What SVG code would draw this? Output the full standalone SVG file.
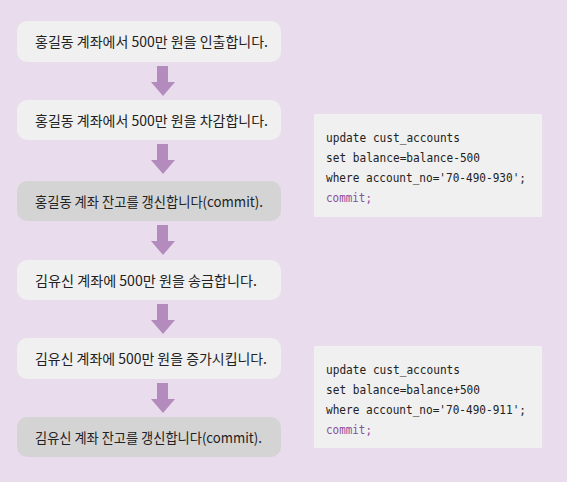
<svg xmlns="http://www.w3.org/2000/svg" width="567" height="482" viewBox="0 0 567 482">
<style>
.bg{fill:#e8dced}
.light{fill:#f0f0f0}
.dark{fill:#d5d4d5}
.lbl{font-family:"Noto Sans CJK KR","Noto Sans",sans-serif;font-size:14px;fill:#222}
.code{fill:#eff0ef}
.mono{font-family:"DejaVu Sans Mono","Liberation Mono",monospace;font-size:12.5px;fill:#222}
.kw{fill:#8b4f9c}
.arr{fill:#b48bbd}
</style>
<rect class="bg" x="0" y="0" width="567" height="482"/>
<g id="connectors">
<path class="arr" d="M157 66h11v16h7l-12 14l-12-14h6z"/>
<path class="arr" d="M157 144h11v16h7l-12 14l-12-14h6z"/>
<path class="arr" d="M157 225h11v16h7l-12 14l-12-14h6z"/>
<path class="arr" d="M157 304h11v16h7l-12 14l-12-14h6z"/>
<path class="arr" d="M157 383h11v16h7l-12 14l-12-14h6z"/>
</g>
<g id="n1"><rect class="light" x="17" y="21" width="264" height="41" rx="10"/><text class="lbl" x="35" y="47" textLength="233" lengthAdjust="spacingAndGlyphs">홍길동 계좌에서 500만 원을 인출합니다.</text></g>
<g id="n2"><rect class="light" x="17" y="100" width="264" height="40" rx="10"/><text class="lbl" x="35" y="126" textLength="233" lengthAdjust="spacingAndGlyphs">홍길동 계좌에서 500만 원을 차감합니다.</text></g>
<g id="n3"><rect class="dark" x="17" y="181" width="264" height="40" rx="10"/><text class="lbl" x="35" y="207" textLength="228" lengthAdjust="spacingAndGlyphs">홍길동 계좌 잔고를 갱신합니다(commit).</text></g>
<g id="n4"><rect class="light" x="17" y="260" width="264" height="40" rx="10"/><text class="lbl" x="35" y="286" textLength="222" lengthAdjust="spacingAndGlyphs">김유신 계좌에 500만 원을 송금합니다.</text></g>
<g id="n5"><rect class="light" x="17" y="338" width="264" height="41" rx="10"/><text class="lbl" x="35" y="364" textLength="232" lengthAdjust="spacingAndGlyphs">김유신 계좌에 500만 원을 증가시킵니다.</text></g>
<g id="n6"><rect class="dark" x="17" y="417" width="264" height="40" rx="10"/><text class="lbl" x="35" y="443" textLength="227" lengthAdjust="spacingAndGlyphs">김유신 계좌 잔고를 갱신합니다(commit).</text></g>
<g id="code1"><rect class="code" x="314" y="114" width="228" height="103"/>
<text class="mono" x="326" y="142" textLength="134" lengthAdjust="spacingAndGlyphs">update cust_accounts</text>
<text class="mono" x="326" y="162" textLength="154" lengthAdjust="spacingAndGlyphs">set balance=balance-500</text>
<text class="mono" x="326" y="182" textLength="200" lengthAdjust="spacingAndGlyphs">where account_no='70-490-930';</text>
<text class="mono kw" x="326" y="202" textLength="46" lengthAdjust="spacingAndGlyphs">commit;</text></g>
<g id="code2"><rect class="code" x="314" y="346" width="228" height="102"/>
<text class="mono" x="326" y="374" textLength="134" lengthAdjust="spacingAndGlyphs">update cust_accounts</text>
<text class="mono" x="326" y="394" textLength="154" lengthAdjust="spacingAndGlyphs">set balance=balance+500</text>
<text class="mono" x="326" y="414" textLength="200" lengthAdjust="spacingAndGlyphs">where account_no='70-490-911';</text>
<text class="mono kw" x="326" y="434" textLength="46" lengthAdjust="spacingAndGlyphs">commit;</text></g>
</svg>
